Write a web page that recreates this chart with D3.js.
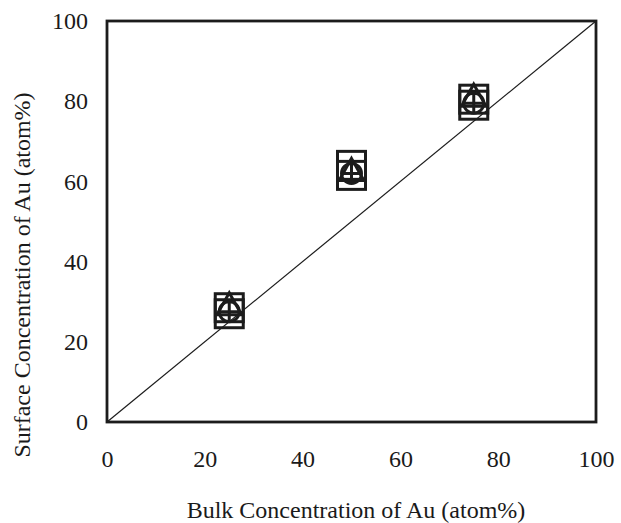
<!DOCTYPE html>
<html><head><meta charset="utf-8">
<script src="https://cdn.jsdelivr.net/npm/d3@7"></script>
<style>body{margin:0;background:#fff}svg{display:block}text{font-family:"Liberation Serif","DejaVu Serif",serif;fill:#1a1a1a}</style>
</head><body>
<script>
const bulk = [25, 50, 75];
const seriesSquareA = [28.5, 64, 80.5];
const seriesSquareB = [27, 61.5, 79];
const seriesTriangle = [29, 62.5, 81];
const seriesCircleCross = [27.5, 62, 79.5];
const xTicks = [0, 20, 40, 60, 80, 100];
const yTicks = [0, 20, 40, 60, 80, 100];
const xTitle = "Bulk Concentration of Au (atom%)";
const yTitle = "Surface Concentration of Au (atom%)";

const W = 621, H = 523;
const m = {l: 107, r: 596, t: 21, b: 422};
const svg = d3.select("body").append("svg").attr("width", W).attr("height", H);
const x = d3.scaleLinear().domain([0, 100]).range([m.l, m.r]);
const y = d3.scaleLinear().domain([0, 100]).range([m.b, m.t]);
const ink = "#1c1c1c";

svg.append("line").attr("x1", x(0)).attr("y1", y(0)).attr("x2", x(100)).attr("y2", y(100))
  .attr("stroke", ink).attr("stroke-width", 1.2);

svg.append("rect").attr("x", m.l).attr("y", m.t).attr("width", m.r - m.l).attr("height", m.b - m.t)
  .attr("fill", "none").attr("stroke", ink).attr("stroke-width", 2.8);

const xAxis = svg.append("g").attr("transform", `translate(0,${m.b})`)
  .call(d3.axisBottom(x).tickValues(xTicks).tickSize(0).tickPadding(28).tickFormat(d3.format("d")));
const yAxis = svg.append("g").attr("transform", `translate(${m.l},0)`)
  .call(d3.axisLeft(y).tickValues(yTicks).tickSize(0).tickPadding(19).tickFormat(d3.format("d")));
[xAxis, yAxis].forEach(g => { g.select(".domain").remove(); g.selectAll("text").attr("font-size", 24).attr("font-family", "Liberation Serif").attr("fill", ink); });

svg.append("text").attr("x", 356).attr("y", 518).attr("text-anchor", "middle")
  .attr("font-size", 24).text(xTitle);
svg.append("text").attr("transform", `translate(30,275) rotate(-90)`).attr("text-anchor", "middle")
  .attr("font-size", 24).text(yTitle);

const mk = svg.append("g").attr("fill", "none").attr("stroke", ink).attr("stroke-width", 3);
function squares(vals, s) {
  mk.selectAll(null).data(vals).join("rect")
    .attr("x", (d, i) => x(bulk[i]) - s / 2).attr("y", d => y(d) - s / 2)
    .attr("width", s).attr("height", s);
}
squares(seriesSquareA, 28);
squares(seriesSquareB, 28);
mk.selectAll(null).data(seriesTriangle).join("path")
  .attr("d", (d, i) => { const cx = x(bulk[i]), cy = y(d), r = 13; return `M${cx},${cy - r}L${cx + r * 0.95},${cy + r * 0.7}L${cx - r * 0.95},${cy + r * 0.7}Z`; });
mk.selectAll(null).data(seriesCircleCross).join("circle")
  .attr("cx", (d, i) => x(bulk[i])).attr("cy", d => y(d)).attr("r", 10);
mk.selectAll(null).data(seriesCircleCross).join("path")
  .attr("d", (d, i) => { const cx = x(bulk[i]), cy = y(d), r = 10; return `M${cx - r},${cy}H${cx + r}M${cx},${cy - r}V${cy + r}`; });
</script>
</body></html>
